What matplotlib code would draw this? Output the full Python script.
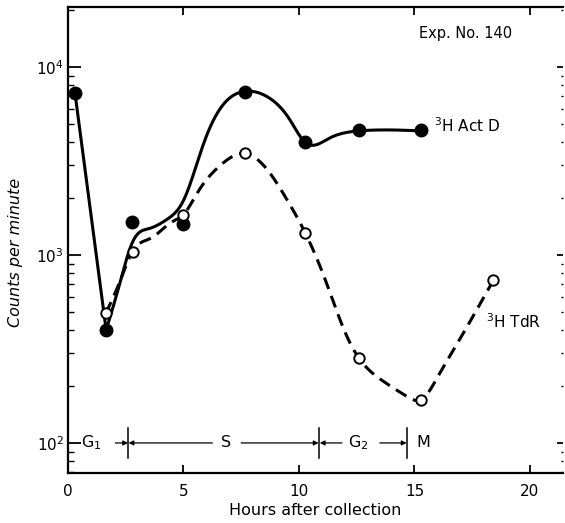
import numpy as np
import matplotlib
matplotlib.use('Agg')
import matplotlib.pyplot as plt

# measured points
act_hours = [0.3, 1.65, 2.78, 4.98, 7.65, 10.26, 12.6, 15.3]
act_cpm = [7300, 400, 1500, 1460, 7400, 4000, 4600, 4600]
tdr_hours = [1.64, 2.8, 5.0, 7.65, 10.26, 12.6, 15.3, 18.4]
tdr_cpm = [490, 1040, 1630, 3490, 1310, 283, 170, 736]

# hand-drawn fit curves (knots)
act_drop_hours = [0.3, 1.65]
act_drop_cpm = [7300, 400]
act_curve_hours = [1.65, 2.2, 2.8, 3.5, 4.3, 5.0, 5.9, 6.6, 7.65, 8.65,
                   9.6, 10.26, 11.3, 12.6, 15.3]
act_curve_cpm = [398, 676, 1175, 1380, 1550, 1950, 4000, 6030, 7413, 6918,
                 5250, 3981, 4170, 4570, 4570]
tdr_curve_hours = [1.64, 2.2, 2.8, 3.6, 4.5, 5.0, 5.6, 6.6, 7.65, 8.65,
                   9.5, 10.26, 11.1, 12.1, 12.6, 13.6, 14.7, 15.3, 16.0,
                   17.0, 18.3]
tdr_curve_cpm = [490, 700, 1047, 1230, 1500, 1640, 2140, 3000, 3467, 2818,
                 1950, 1318, 759, 363, 282, 215, 176, 170, 224,
                 363, 692]

# cell cycle phases
phase_bounds = [2.6, 10.87, 14.68]
phase_names = ['G$_1$', 'S', 'G$_2$', 'M']
phase_name_x = [1.0, 6.85, 12.57, 15.4]
phase_arrows = [(2.05, 2.6), (6.25, 2.62), (7.5, 10.85), (11.86, 10.9), (13.5, 14.66)]


def natural_spline(xs, ys, n=400):
    """Natural cubic spline through the knots, in log-y space."""
    x = np.asarray(xs, float)
    y = np.log10(ys)
    k = len(x)
    h = np.diff(x)
    A = np.zeros((k, k))
    r = np.zeros(k)
    A[0, 0] = A[-1, -1] = 1
    for i in range(1, k - 1):
        A[i, i - 1] = h[i - 1]
        A[i, i] = 2 * (h[i - 1] + h[i])
        A[i, i + 1] = h[i]
        r[i] = 3 * ((y[i + 1] - y[i]) / h[i] - (y[i] - y[i - 1]) / h[i - 1])
    c = np.linalg.solve(A, r)
    b = (y[1:] - y[:-1]) / h - h * (2 * c[:-1] + c[1:]) / 3
    d = (c[1:] - c[:-1]) / (3 * h)
    xf = np.linspace(x[0], x[-1], n)
    j = np.clip(np.searchsorted(x, xf) - 1, 0, k - 2)
    t = xf - x[j]
    yf = y[j] + b[j] * t + c[j] * t ** 2 + d[j] * t ** 3
    return xf, 10 ** yf


fig = plt.figure(figsize=(5.65, 5.23), dpi=100)
ax = fig.add_axes([68 / 565, 1 - 473 / 523, (563 - 68) / 565, 466 / 523])
ax.set_yscale('log')
ax.set_xlim(0, 21.43)
ax.set_ylim(69.2, 20840)

lw = 2.2
ax.plot(act_drop_hours, act_drop_cpm, color='black', lw=lw, zorder=2)
cx, cy = natural_spline(act_curve_hours, act_curve_cpm)
ax.plot(cx, cy, color='black', lw=lw, zorder=2)
dx, dy = natural_spline(tdr_curve_hours, tdr_curve_cpm)
ax.plot(dx, dy, color='black', lw=lw, dashes=(4, 2.4), zorder=2)

ax.plot(act_hours, act_cpm, 'o', color='black', ms=9, zorder=3)
ax.plot(tdr_hours, tdr_cpm, 'o', mfc='white', mec='black', mew=1.4, ms=7.5, zorder=4)

# phase bar along 10^2
for b in phase_bounds:
    ax.plot([b, b], [83, 120], color='black', lw=1.1)
for name, x in zip(phase_names, phase_name_x):
    ax.text(x, 100, name, ha='center', va='center', fontsize=11.5)
for x0, x1 in phase_arrows:
    ax.annotate('', xy=(x1, 100), xytext=(x0, 100),
                arrowprops=dict(arrowstyle='-|>', lw=0.9, color='black',
                                mutation_scale=7, shrinkA=0, shrinkB=0))

ax.text(17.2, 15100, 'Exp. No. 140', ha='center', va='center', fontsize=10.5)
ax.text(15.85, 4900, '$^3$H Act D', ha='left', va='center', fontsize=11)
ax.text(18.1, 440, '$^3$H TdR', ha='left', va='center', fontsize=11)

# axes styling
ax.spines['right'].set_visible(False)
for s in ['left', 'bottom', 'top']:
    ax.spines[s].set_linewidth(1.6)
ax.set_xticks([0, 5, 10, 15, 20])
ax.tick_params(axis='x', which='major', direction='in', length=6, width=1.3,
               labelsize=11, pad=8)
ax.tick_params(axis='y', which='major', direction='in', length=9, width=1.3,
               labelsize=11, pad=3)
ax.tick_params(axis='y', which='minor', direction='in', length=4.5, width=1.0)
ax.tick_params(axis='x', which='minor', bottom=False)

top = ax.secondary_xaxis('top')
top.set_xticks([5, 10, 15, 20])
top.tick_params(direction='in', length=6, width=1.3, labeltop=False)
top.spines['top'].set_visible(False)

right = ax.secondary_yaxis('right')
right.tick_params(which='major', direction='in', length=4.5, width=1.3, labelright=False)
right.tick_params(which='minor', direction='in', length=1.5, width=1.0, labelright=False)
right.spines['right'].set_visible(False)

ax.set_xlabel('Hours after collection', fontsize=11.5, labelpad=3)
ax.set_ylabel('Counts per minute', fontsize=11.5, style='italic')
ax.yaxis.set_label_coords(-0.09, 0.474)

fig.savefig('out.png', dpi=100)
